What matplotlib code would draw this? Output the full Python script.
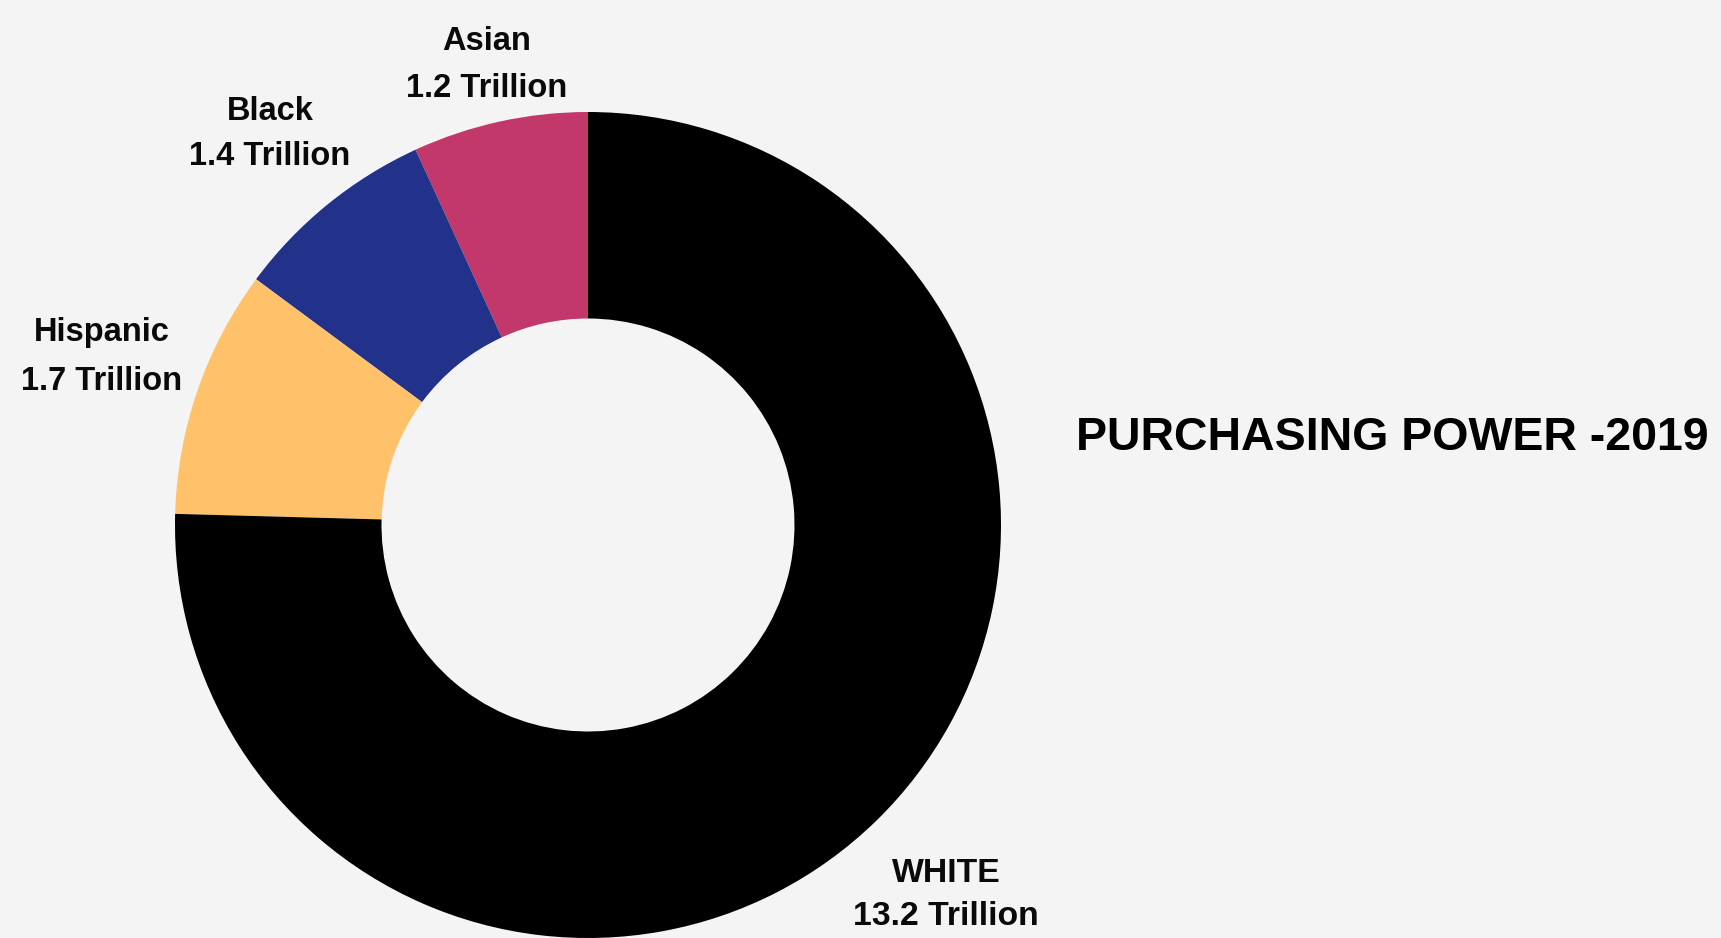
import matplotlib
matplotlib.use("Agg")
import matplotlib.pyplot as plt

categories = ["Asian", "Black", "Hispanic", "WHITE"]
values = [1.2, 1.4, 1.7, 13.2]
value_labels = ["1.2 Trillion", "1.4 Trillion", "1.7 Trillion", "13.2 Trillion"]
colors = ["#c2386b", "#22318a", "#ffc26b", "#000000"]
title = "PURCHASING POWER -2019"

W, H = 1721, 938
bg = "#f4f4f4"
fig = plt.figure(figsize=(W / 100, H / 100), dpi=100, facecolor=bg)
ax = fig.add_axes([0, 0, 1, 1])
ax.set_facecolor(bg)

cx, cy, R = 588, H - 525, 413
ax.pie(values, colors=colors, startangle=90, counterclock=True,
       center=(cx, cy), radius=R, frame=True,
       wedgeprops=dict(width=R * 0.5, linewidth=0))
ax.set_xlim(0, W)
ax.set_ylim(0, H)
ax.set_aspect("equal")
ax.axis("off")

label_pos = [(487, 65), (270, 134), (102, 357), (946, 895)]
label_size = [23.5, 23.5, 23.5, 24.3]
label_spacing = [1.65, 1.62, 1.72, 1.5]
for cat, vl, (x, y), fs, ls in zip(categories, value_labels, label_pos,
                                   label_size, label_spacing):
    ax.text(x, H - y, f"{cat}\n{vl}", ha="center", va="center",
            fontsize=fs, fontweight="bold", family="Liberation Sans",
            linespacing=ls, color="#0a0a0a")

ax.text(1392, H - 438, title, ha="center", va="center", fontsize=33.5,
        fontweight="bold", family="Liberation Sans", color="#000000")

fig.savefig("out.png", dpi=100, facecolor=bg)
